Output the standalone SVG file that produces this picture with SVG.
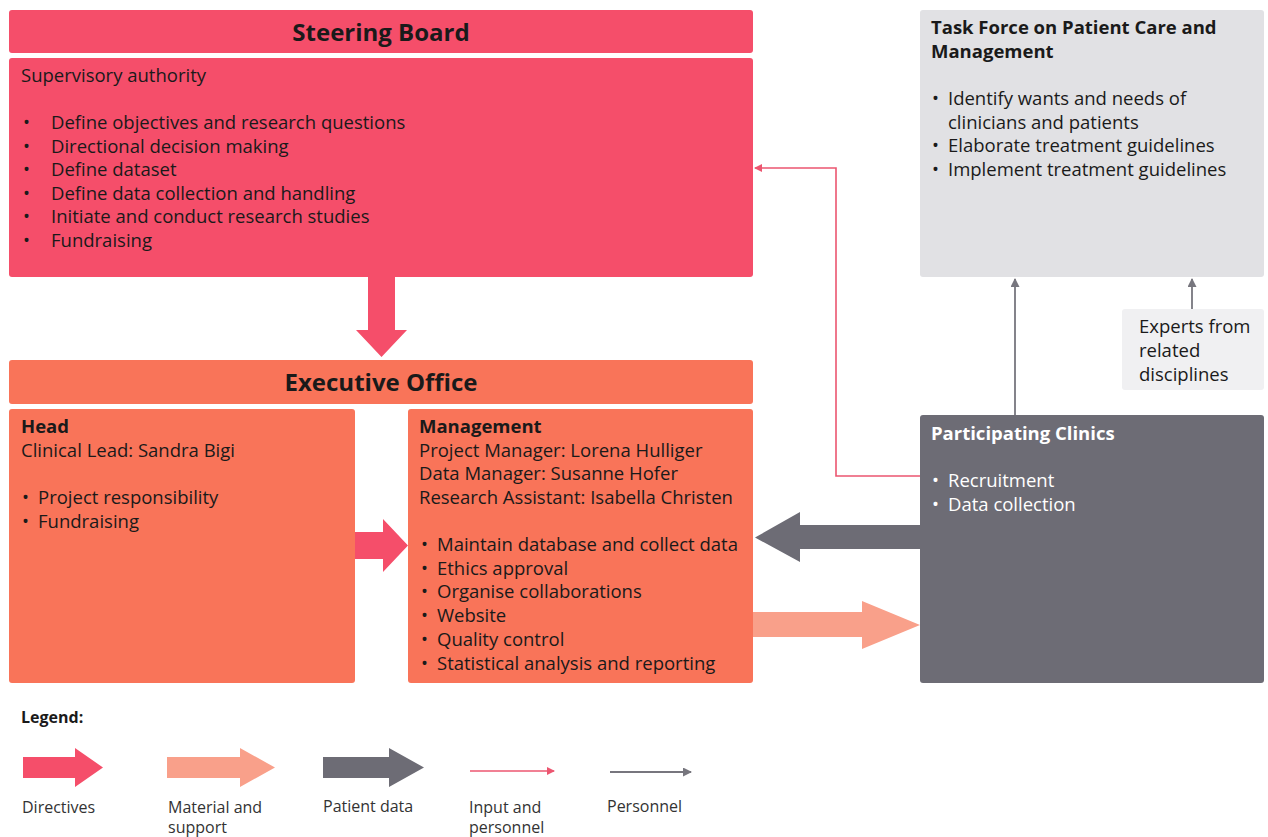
<svg xmlns="http://www.w3.org/2000/svg" width="1268" height="837" viewBox="0 0 1268 837">
  <style>
    text { font-family: "Open Sans", "Noto Sans", "Liberation Sans", sans-serif; fill: #1a1a1a; }
    .t { font-size: 18.5px; }
    .b { font-weight: bold; }
    .h { font-size: 24px; font-weight: bold; }
    .w { fill: #ffffff; }
    .lg { font-size: 16px; fill: #333333; }
    .pink { fill: #F54E6A; }
    .orange { fill: #F97459; }
    .salmon { fill: #F9A08A; }
    .dark { fill: #6D6C75; }
    .thinpink { stroke: #EC5670; stroke-width: 1.6; fill: none; }
    .thingray { stroke: #77767E; stroke-width: 1.8; fill: none; }
  </style>
  <defs>
    <marker id="mp" markerWidth="8" markerHeight="8" refX="7" refY="4" orient="auto" markerUnits="userSpaceOnUse" viewBox="0 0 8 8">
      <path d="M0,0 L8,4 L0,8 Z" fill="#EC5670"/>
    </marker>
    <marker id="mg" markerWidth="9" markerHeight="9" refX="8" refY="4.5" orient="auto" markerUnits="userSpaceOnUse" viewBox="0 0 9 9">
      <path d="M0,0 L9,4.5 L0,9 Z" fill="#77767E"/>
    </marker>
  </defs>
  <rect width="1268" height="837" fill="#ffffff"/>

  <g id="steering-board">
    <rect class="pink" x="9" y="10" width="744" height="43" rx="3"/>
    <text class="h" x="381" y="41" text-anchor="middle">Steering Board</text>
    <rect class="pink" x="9" y="58" width="744" height="219" rx="3"/>
    <text class="t" x="21" y="82">Supervisory authority</text>
    <g class="t">
      <text x="23" y="129">•</text><text x="51" y="129">Define objectives and research questions</text>
      <text x="23" y="153">•</text><text x="51" y="153">Directional decision making</text>
      <text x="23" y="176">•</text><text x="51" y="176">Define dataset</text>
      <text x="23" y="200">•</text><text x="51" y="200">Define data collection and handling</text>
      <text x="23" y="223">•</text><text x="51" y="223">Initiate and conduct research studies</text>
      <text x="23" y="247">•</text><text x="51" y="247">Fundraising</text>
    </g>
  </g>

  <g id="executive-office">
    <rect class="orange" x="9" y="360" width="744" height="44" rx="3"/>
    <text class="h" x="381" y="391" text-anchor="middle">Executive Office</text>
  </g>

  <g id="head">
    <rect class="orange" x="9" y="409" width="346" height="274" rx="3"/>
    <text class="t b" x="21" y="433">Head</text>
    <text class="t" x="21" y="457">Clinical Lead: Sandra Bigi</text>
    <text class="t" x="22" y="504">•</text><text class="t" x="38" y="504">Project responsibility</text>
    <text class="t" x="22" y="528">•</text><text class="t" x="38" y="528">Fundraising</text>
  </g>

  <g id="management">
    <rect class="orange" x="408" y="409" width="345" height="274" rx="3"/>
    <text class="t b" x="419" y="433">Management</text>
    <text class="t" x="419" y="457">Project Manager: Lorena Hulliger</text>
    <text class="t" x="419" y="480">Data Manager: Susanne Hofer</text>
    <text class="t" x="419" y="504">Research Assistant: Isabella Christen</text>
    <g class="t">
      <text x="421" y="551">•</text><text x="437" y="551">Maintain database and collect data</text>
      <text x="421" y="575">•</text><text x="437" y="575">Ethics approval</text>
      <text x="421" y="598">•</text><text x="437" y="598">Organise collaborations</text>
      <text x="421" y="622">•</text><text x="437" y="622">Website</text>
      <text x="421" y="646">•</text><text x="437" y="646">Quality control</text>
      <text x="421" y="670">•</text><text x="437" y="670">Statistical analysis and reporting</text>
    </g>
  </g>

  <g id="task-force">
    <rect x="920" y="10" width="344" height="267" rx="3" fill="#E1E1E4"/>
    <text class="t b" x="931" y="34">Task Force on Patient Care and</text>
    <text class="t b" x="931" y="58">Management</text>
    <g class="t">
      <text x="932" y="105">•</text><text x="948" y="105">Identify wants and needs of</text>
      <text x="948" y="129">clinicians and patients</text>
      <text x="932" y="152">•</text><text x="948" y="152">Elaborate treatment guidelines</text>
      <text x="932" y="176">•</text><text x="948" y="176">Implement treatment guidelines</text>
    </g>
  </g>

  <g id="experts">
    <rect x="1122" y="309" width="142" height="81" rx="3" fill="#F0F0F2"/>
    <text class="t" x="1139" y="333">Experts from</text>
    <text class="t" x="1139" y="357">related</text>
    <text class="t" x="1139" y="381">disciplines</text>
  </g>

  <g id="participating-clinics">
    <rect class="dark" x="920" y="415" width="344" height="268" rx="3"/>
    <text class="t b w" x="931" y="440">Participating Clinics</text>
    <text class="t w" x="932" y="487">•</text><text class="t w" x="948" y="487">Recruitment</text>
    <text class="t w" x="932" y="511">•</text><text class="t w" x="948" y="511">Data collection</text>
  </g>

  <g id="connectors">
    <!-- Steering Board to Executive Office: directives -->
    <path class="pink" d="M368,277 H395 V330 H407 L381.5,357 L356,330 H368 Z"/>
    <!-- Head to Management: directives -->
    <path class="pink" d="M355,532 H383 V519 L408,545.5 L383,572 V559 H355 Z"/>
    <!-- Clinics to Management: patient data -->
    <path class="dark" d="M920,525 H800 V512 L755,537.5 L800,562 V549 H920 Z"/>
    <!-- Management to Clinics: material and support -->
    <path class="salmon" d="M753,612 H862 V601 L920,625 L862,649 V637 H753 Z"/>
    <!-- Clinics to Steering Board: input and personnel -->
    <path class="thinpink" d="M920,476 H836 V168 H755" marker-end="url(#mp)"/>
    <!-- Personnel to Task Force -->
    <path class="thingray" d="M1015,415 V279" marker-end="url(#mg)"/>
    <path class="thingray" d="M1192,309 V279" marker-end="url(#mg)"/>
  </g>

  <g id="legend">
    <text class="b" x="21" y="723" font-size="16">Legend:</text>
    <path class="pink" d="M23,757 H75 V748 L103,767.5 L75,787 V778 H23 Z"/>
    <path class="salmon" d="M167,757 H240 V748 L275,767.5 L240,787 V778 H167 Z"/>
    <path class="dark" d="M323,757 H389 V748 L424,767.5 L389,787 V778 H323 Z"/>
    <path class="thinpink" d="M470,771 H554" marker-end="url(#mp)"/>
    <path class="thingray" d="M610,772 H691" marker-end="url(#mg)"/>
    <text class="lg" x="22" y="813">Directives</text>
    <text class="lg" x="168" y="813">Material and</text>
    <text class="lg" x="168" y="833">support</text>
    <text class="lg" x="323" y="812">Patient data</text>
    <text class="lg" x="469" y="813">Input and</text>
    <text class="lg" x="469" y="833">personnel</text>
    <text class="lg" x="607" y="812">Personnel</text>
  </g>
</svg>
